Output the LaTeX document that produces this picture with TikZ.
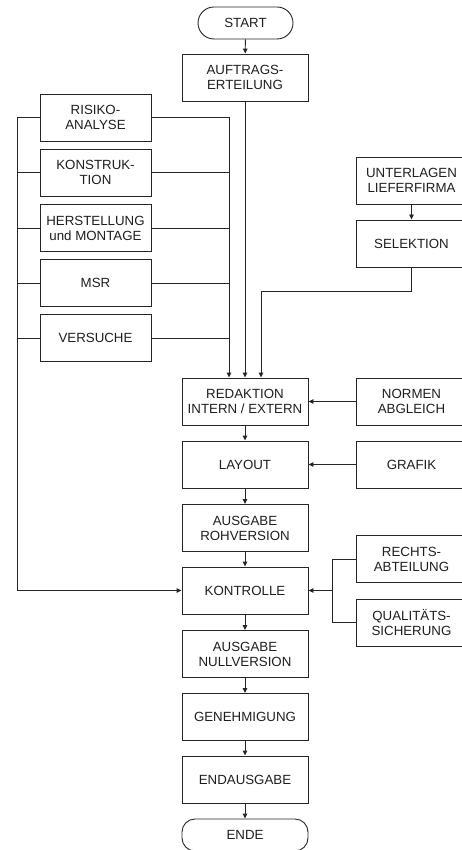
\documentclass[tikz,border=0pt]{standalone}
\usepackage{fontspec}
\setmainfont{Liberation Sans}
\usetikzlibrary{arrows.meta}
\begin{document}
\begin{tikzpicture}[x=1pt,y=-1pt,
  font=\fontsize{13.3}{15}\selectfont,
  every node/.style={text=black!88},
  box/.style={draw=black!85, line width=0.9pt, minimum width=126pt, minimum height=47pt, align=center, inner sep=1pt},
  sbox/.style={box, minimum width=111pt},
  term/.style={draw=black!85, line width=0.9pt, minimum height=32pt, align=center, inner sep=1pt},
  conn/.style={draw=black!85, line width=0.9pt},
  arr/.style={conn, -{Triangle[length=5pt,width=4.5pt]}}]
\clip (0,0) rectangle (462,850);
\fill[white] (0,0) rectangle (462,850);

% terminals
\node[term, minimum width=95pt, rounded corners=16pt] (start) at (245.5,23) {START};
\node[term, minimum width=126pt, rounded corners=13pt] (ende) at (245,835) {ENDE};

% main column
\node[box] (auftrag) at (245,77.5) {AUFTRAGS-\\ERTEILUNG};
\node[box] (redak) at (245,401.5) {REDAKTION\\INTERN / EXTERN};
\node[box] (layout) at (245,464.5) {LAYOUT};
\node[box] (roh) at (245,528) {AUSGABE\\ROHVERSION};
\node[box] (kontr) at (245,590.5) {KONTROLLE};
\node[box] (null) at (245,654) {AUSGABE\\NULLVERSION};
\node[box] (genehm) at (245,717) {GENEHMIGUNG};
\node[box] (endaus) at (245,779.5) {ENDAUSGABE};

% left column
\node[sbox] (risiko) at (95.5,117.5) {RISIKO-\\ANALYSE};
\node[sbox] (konstr) at (95.5,172.5) {KONSTRUK-\\TION};
\node[sbox] (herst) at (95.5,228) {HERSTELLUNG\\und MONTAGE};
\node[sbox] (msr) at (95.5,283) {MSR};
\node[sbox] (vers) at (95.5,338) {VERSUCHE};

% right column
\node[sbox] (unter) at (411.5,180.5) {UNTERLAGEN\\LIEFERFIRMA};
\node[sbox] (selek) at (411.5,243.5) {SELEKTION};
\node[sbox] (normen) at (411.5,401.5) {NORMEN\\ABGLEICH};
\node[sbox] (grafik) at (411.5,464.5) {GRAFIK};
\node[sbox] (recht) at (411.5,559) {RECHTS-\\ABTEILUNG};
\node[sbox] (qual) at (411.5,622.5) {QUALITÄTS-\\SICHERUNG};

% helper coordinates
\coordinate (lb) at (17,0);
\coordinate (rb) at (229,0);
\coordinate (selc) at (261,291);
\coordinate (qb) at (332,0);

% main chain
\draw[arr] (start) -- (auftrag);
\draw[arr] (auftrag) -- (redak);
\draw[arr] (redak) -- (layout);
\draw[arr] (layout) -- (roh);
\draw[arr] (roh) -- (kontr);
\draw[arr] (kontr) -- (null);
\draw[arr] (null) -- (genehm);
\draw[arr] (genehm) -- (endaus);
\draw[arr] (endaus) -- (ende);

% left bus to KONTROLLE
\draw[arr] (risiko.west) -- (risiko.west -| lb) |- (kontr.west);
\foreach \b in {konstr,herst,msr,vers}
  \draw[conn] (\b.west) -- (\b.west -| lb);

% right bus to REDAKTION
\draw[arr] (risiko.east) -| (redak.north -| rb);
\foreach \b in {konstr,herst,msr,vers}
  \draw[conn] (\b.east) -- (\b.east -| rb);

% supplier documents
\draw[arr] (unter) -- (selek);
\draw[arr] (selek.south) |- (selc) -- (redak.north -| selc);

% side inputs
\draw[arr] (normen) -- (redak);
\draw[arr] (grafik) -- (layout);

% legal and quality to KONTROLLE
\draw[conn] (recht.west) -| (qb |- qual.west) -- (qual.west);
\draw[arr] (qb |- kontr.east) -- (kontr.east);
\end{tikzpicture}
\end{document}
